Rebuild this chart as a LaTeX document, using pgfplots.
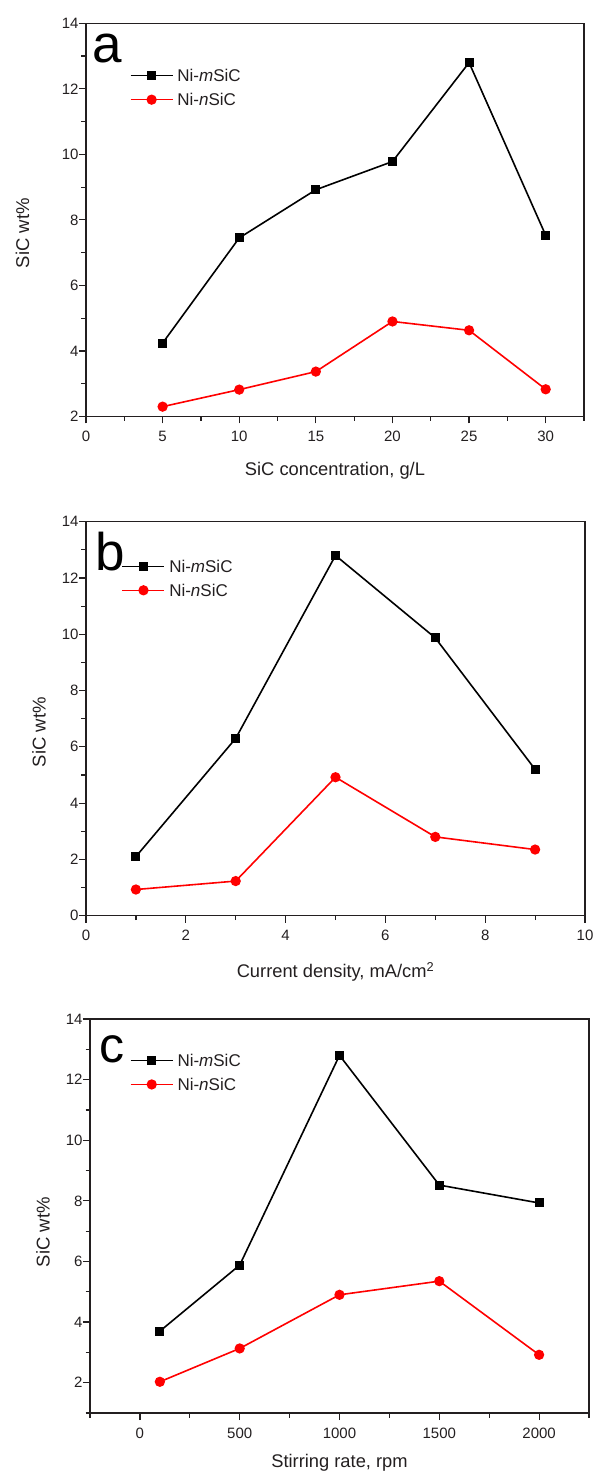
\documentclass[border=0pt]{standalone}
\usepackage{pgfplots}
\pgfplotsset{compat=1.18}
\usepackage{pgfplotstable}
\usepackage{fontspec}
\setmainfont{Liberation Sans}
\definecolor{txt}{RGB}{35,31,32}
\definecolor{myred}{RGB}{255,0,0}

\pgfplotstableread{
x m n
5 4.24 2.30
10 7.45 2.82
15 8.92 3.37
20 9.78 4.90
25 12.80 4.63
30 7.53 2.83
}\tabA
\pgfplotstableread{
x m n
1 2.10 0.93
3 6.30 1.23
5 12.80 4.92
7 9.87 2.80
9 5.20 2.35
}\tabB
\pgfplotstableread{
x m n
100 3.70 2.03
500 5.88 3.13
1000 12.80 4.90
1500 8.52 5.35
2000 7.93 2.92
}\tabC

\pgfplotsset{
  panel/.style={
    scale only axis,
    anchor=south west,
    axis line style={line width=1.4pt, color=txt},
    every tick/.style={line width=1.2pt, color=txt},
    tick align=outside,
    xtick pos=left, ytick pos=left,
    major tick length=7pt, minor tick length=4.5pt,
    tick label style={font=\fontsize{15}{17}\selectfont, color=txt},
    yticklabel style={xshift=3pt},
    xticklabel style={yshift=-4pt},
    /pgf/number format/assume math mode=true,
    /pgf/number format/1000 sep={},
    label style={color=txt},
    xlabel style={font=\fontsize{18.3}{21}\selectfont, anchor=base},
    ylabel style={font=\fontsize{18.5}{21}\selectfont, anchor=center},
    ylabel={SiC wt\%},
    legend cell align=left,
    legend style={draw=none, fill=none, anchor=north west, inner sep=0pt, outer sep=0pt,
      font=\fontsize{17}{19}\selectfont, text=txt,
      nodes={inner sep=0pt, text height=12pt, text depth=0pt},
      row sep=12pt, column sep=4pt},
    legend image code/.code={\draw[mark repeat=2,mark phase=2,##1] plot coordinates {(0pt,0pt) (21pt,0pt) (42pt,0pt)};},
  },
  mser/.style={black, line width=1.6pt, mark=square*, mark size=3.7pt, mark options={solid}},
  nser/.style={myred, line width=1.6pt, mark=*, mark size=4.3pt, mark options={solid}},
}

\begin{document}
\begin{tikzpicture}[x=1pt,y=1pt]
\useasboundingbox (0,0) rectangle (597,1477);

% panel a
\begin{axis}[panel, at={(86pt,1060.5pt)}, width=498pt, height=393.2pt,
  xmin=0, xmax=32.5, ymin=2, ymax=14,
  xtick={0,5,...,30}, minor xtick={2.5,7.5,...,32.5},
  ytick={2,4,...,14}, minor ytick={3,5,...,13},
  xlabel={SiC concentration, g/L},
  xlabel style={at={(axis description cs:0.5,-0.150)}},
  ylabel style={at={(axis description cs:-0.1275,0.466)}},
  legend style={at={(axis description cs:0.088,0.882)}},
]
\addplot[mser] table[x=x,y=m]{\tabA};
\addlegendentry{Ni-\textit{m}SiC}
\addplot[nser] table[x=x,y=n]{\tabA};
\addlegendentry{Ni-\textit{n}SiC}
\node[anchor=base west, font=\fontsize{53}{60}\selectfont, inner sep=0pt, text=black] at (rel axis cs:0.012,0.899) {a};
\end{axis}

% panel b
\begin{axis}[panel, at={(86pt,561.3pt)}, width=499pt, height=394pt,
  xmin=0, xmax=10, ymin=0, ymax=14,
  xtick={0,2,...,10}, minor xtick={1,3,...,9},
  ytick={0,2,...,14}, minor ytick={1,3,...,13},
  xlabel={Current density, mA/cm\textsuperscript{2}},
  xlabel style={at={(axis description cs:0.5,-0.157)}},
  ylabel style={at={(axis description cs:-0.094,0.466)}},
  legend style={at={(axis description cs:0.0715,0.902)}},
]
\addplot[mser] table[x=x,y=m]{\tabB};
\addlegendentry{Ni-\textit{m}SiC}
\addplot[nser] table[x=x,y=n]{\tabB};
\addlegendentry{Ni-\textit{n}SiC}
\node[anchor=base west, font=\fontsize{53}{60}\selectfont, inner sep=0pt, text=black] at (rel axis cs:0.018,0.877) {b};
\end{axis}

% panel c
\begin{axis}[panel, at={(90pt,64pt)}, width=499pt, height=394pt,
  xmin=-250, xmax=2250, ymin=1, ymax=14,
  xtick={0,500,...,2000}, minor xtick={-250,250,...,2250},
  ytick={2,4,...,14}, minor ytick={1,3,...,13},
  xlabel={Stirring rate, rpm},
  xlabel style={at={(axis description cs:0.5,-0.138)}},
  ylabel style={at={(axis description cs:-0.094,0.459)}},
  legend style={at={(axis description cs:0.080,0.910)}},
]
\addplot[mser] table[x=x,y=m]{\tabC};
\addlegendentry{Ni-\textit{m}SiC}
\addplot[nser] table[x=x,y=n]{\tabC};
\addlegendentry{Ni-\textit{n}SiC}
\node[anchor=base west, font=\fontsize{50}{60}\selectfont, inner sep=0pt, text=black] at (rel axis cs:0.018,0.889) {c};
\end{axis}
\end{tikzpicture}
\end{document}
